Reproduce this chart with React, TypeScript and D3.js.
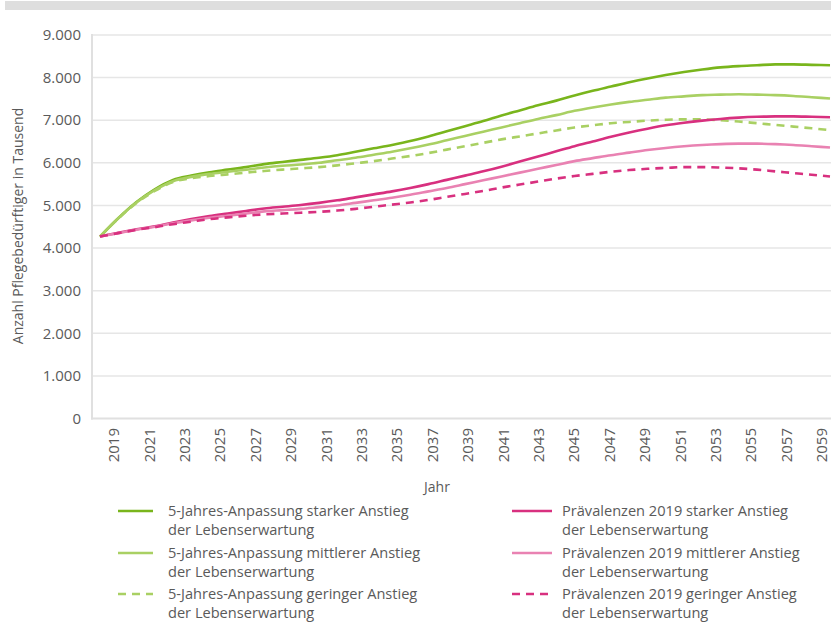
import React from "react";
import * as d3 from "d3";

const years = [
  2019, 2020, 2021, 2022, 2023, 2024, 2025, 2026, 2027, 2028,
  2029, 2030, 2031, 2032, 2033, 2034, 2035, 2036, 2037, 2038,
  2039, 2040, 2041, 2042, 2043, 2044, 2045, 2046, 2047, 2048,
  2049, 2050, 2051, 2052, 2053, 2054, 2055, 2056, 2057, 2058, 2059,
];

const tickYears = [
  2019, 2021, 2023, 2025, 2027, 2029, 2031, 2033, 2035, 2037, 2039,
  2041, 2043, 2045, 2047, 2049, 2051, 2053, 2055, 2057, 2059,
];

const yTicks = [0, 1000, 2000, 3000, 4000, 5000, 6000, 7000, 8000, 9000];

const greenStrong = [
  4270, 4700, 5080, 5380, 5600, 5700, 5780, 5840, 5900, 5970,
  6020, 6070, 6120, 6180, 6260, 6340, 6420, 6510, 6620, 6740,
  6860, 6980, 7110, 7230, 7350, 7460, 7580, 7690, 7790, 7890,
  7980, 8060, 8130, 8190, 8240, 8270, 8290, 8310, 8310, 8300, 8290,
];
const greenMedium = [
  4270, 4700, 5070, 5360, 5570, 5670, 5740, 5790, 5840, 5890,
  5930, 5960, 6000, 6060, 6120, 6190, 6260, 6340, 6430, 6530,
  6630, 6730, 6830, 6930, 7030, 7120, 7220, 7300, 7370, 7430,
  7480, 7530, 7560, 7590, 7600, 7610, 7600, 7590, 7570, 7540, 7510,
];
const greenLow = [
  4270, 4690, 5060, 5340, 5550, 5640, 5690, 5730, 5770, 5810,
  5840, 5870, 5900, 5940, 5990, 6040, 6100, 6160, 6230, 6310,
  6390, 6470, 6550, 6620, 6690, 6760, 6830, 6880, 6930, 6960,
  6990, 7010, 7020, 7020, 7000, 6970, 6930, 6890, 6850, 6810, 6770,
];
const pinkStrong = [
  4270, 4360, 4440, 4510, 4600, 4680, 4750, 4810, 4870, 4930,
  4970, 5010, 5060, 5120, 5190, 5260, 5330, 5410, 5500, 5600,
  5700, 5800, 5910, 6030, 6150, 6270, 6390, 6500, 6610, 6710,
  6800, 6880, 6940, 6990, 7030, 7060, 7080, 7090, 7090, 7080, 7070,
];
const pinkMedium = [
  4270, 4350, 4430, 4500, 4580, 4650, 4710, 4760, 4810, 4860,
  4890, 4920, 4960, 5000, 5060, 5120, 5180, 5250, 5330, 5410,
  5500, 5590, 5680, 5770, 5860, 5950, 6040, 6110, 6180, 6240,
  6300, 6350, 6390, 6420, 6440, 6450, 6450, 6440, 6420, 6390, 6360,
];
const pinkLow = [
  4270, 4350, 4430, 4490, 4560, 4620, 4680, 4720, 4760, 4790,
  4810, 4830, 4850, 4880, 4920, 4970, 5020, 5070, 5130, 5200,
  5270, 5340, 5420, 5490, 5560, 5630, 5690, 5740, 5790, 5830,
  5860, 5880, 5900, 5900, 5890, 5870, 5840, 5800, 5760, 5720, 5680,
];

const seriesNames = [
  ["5-Jahres-Anpassung starker Anstieg", "der Lebenserwartung"],
  ["5-Jahres-Anpassung mittlerer Anstieg", "der Lebenserwartung"],
  ["5-Jahres-Anpassung geringer Anstieg", "der Lebenserwartung"],
  ["Prävalenzen 2019 starker Anstieg", "der Lebenserwartung"],
  ["Prävalenzen 2019 mittlerer  Anstieg", "der Lebenserwartung"],
  ["Prävalenzen 2019 geringer Anstieg", "der Lebenserwartung"],
];

const seriesValues = [greenStrong, greenMedium, greenLow, pinkStrong, pinkMedium, pinkLow];
const seriesColors = ["#79b51c", "#a9d063", "#a9d063", "#d8307f", "#e982b2", "#d8307f"];
const seriesDashed = [false, false, true, false, false, true];

const W = 831;
const H = 623;
const FONT = "'Open Sans', 'DejaVu Sans', sans-serif";
const TXT = "#5a5a5a";

export default function App() {
  const plotLeft = 92;
  const plotRight = 831;
  const plotTop = 35;
  const plotBottom = 418.5;

  const x = d3.scaleLinear().domain([2019, 2059]).range([100, 830]);
  const xLab = d3.scaleLinear().domain([2019, 2059]).range([114, 822]);
  const y = d3.scaleLinear().domain([0, 9000]).range([plotBottom, plotTop]);

  const line = d3
    .line<number>()
    .x((_, i) => x(years[i]))
    .y((d) => y(d))
    .curve(d3.curveMonotoneX);

  const fmt = (v: number) => (v === 0 ? "0" : d3.format(",")(v).replace(/,/g, "."));

  const legendCols = [118, 512];
  const legendRows = [511, 553, 594];

  return (
    <svg
      width={W}
      height={H}
      style={{ position: "absolute", left: 0, top: 0, background: "#fff" }}
      fontFamily={FONT}
    >
      <rect x={5} y={1} width={W - 5} height={9} fill="#dedede" />

      {yTicks.map((t) => (
        <g key={t}>
          {t > 0 && (
            <line x1={plotLeft} x2={plotRight} y1={y(t)} y2={y(t)} stroke="#e6e6e6" strokeWidth={1.5} />
          )}
          <text x={81} y={y(t)} dy="0.35em" textAnchor="end" fontSize={15} fill={TXT}>
            {fmt(t)}
          </text>
        </g>
      ))}
      <line x1={plotLeft} x2={plotLeft} y1={plotTop - 1} y2={plotBottom + 1} stroke="#e0e0e0" strokeWidth={2} />
      <line x1={plotLeft - 1} x2={plotRight} y1={plotBottom} y2={plotBottom} stroke="#e0e0e0" strokeWidth={2} />

      {tickYears.map((yr) => (
        <text
          key={yr}
          transform={`translate(${xLab(yr)},428) rotate(-90)`}
          dy="0.35em"
          textAnchor="end"
          fontSize={15}
          fill={TXT}
        >
          {yr}
        </text>
      ))}

      <text
        transform={`translate(18,226) rotate(-90)`}
        textAnchor="middle"
        dy="0.35em"
        fontSize={14}
        fill={TXT}
      >
        Anzahl Pflegebedürftiger in Tausend
      </text>
      <text x={437} y={487} textAnchor="middle" dy="0.35em" fontSize={14} fill={TXT}>
        Jahr
      </text>

      {seriesValues.map((vals, i) => (
        <path
          key={i}
          d={line(vals) || ""}
          fill="none"
          stroke={seriesColors[i]}
          strokeWidth={2.6}
          strokeDasharray={seriesDashed[i] ? "8 6" : undefined}
        />
      ))}

      {seriesNames.map((names, i) => {
        const col = Math.floor(i / 3);
        const row = i % 3;
        const lx = legendCols[col];
        const ly = legendRows[row];
        const lw = col === 0 ? 35 : 40;
        return (
          <g key={i}>
            <line
              x1={lx}
              x2={lx + lw}
              y1={ly}
              y2={ly}
              stroke={seriesColors[i]}
              strokeWidth={2.6}
              strokeDasharray={seriesDashed[i] ? "8 6" : undefined}
            />
            <text x={lx + 50} y={ly} dy="0.35em" fontSize={14.6} fill={TXT}>
              {names[0]}
            </text>
            <text x={lx + 50} y={ly + 19} dy="0.35em" fontSize={14.6} fill={TXT}>
              {names[1]}
            </text>
          </g>
        );
      })}
    </svg>
  );
}
